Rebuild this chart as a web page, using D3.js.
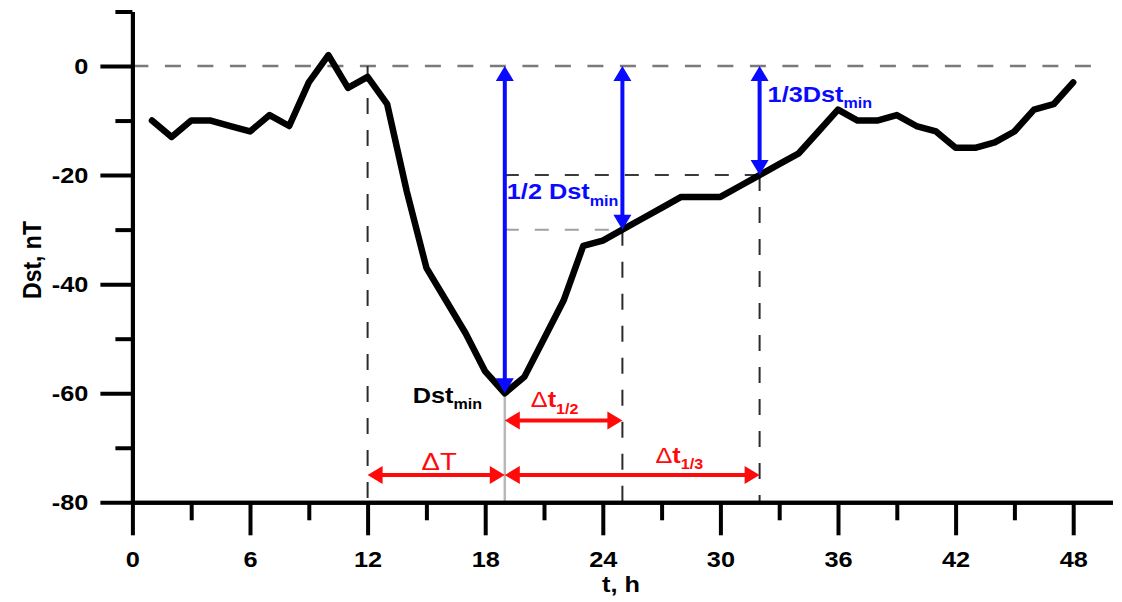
<!DOCTYPE html>
<html>
<head>
<meta charset="utf-8">
<script src="https://cdn.jsdelivr.net/npm/d3@7"></script>
<style>
  body { margin: 0; background: #fff; }
  svg { display: block; font-family: "Liberation Sans", Arial, sans-serif; }
</style>
</head>
<body>
<div id="chart"></div>
<script>
/* Dst storm profile with recovery-time annotations */

/* hourly values */
const hours = [1,2,3,4,5,6,7,8,9,10,11,12,13,14,15,16,17,18,19,20,21,22,23,24,
               25,26,27,28,29,30,31,32,33,34,35,36,37,38,39,40,41,42,43,44,45,46,47,48];
const dst = [-10,-13,-10,-10,-11,-12,-9,-11,-3,2,-4,-2,-7,-23,-37,-43,-49,-56,-60,-57,-50,-43,-33,-32,
             -30,-28,-26,-24,-24,-24,-22,-20,-18,-16,-12,-8,-10,-10,-9,-11,-12,-15,-15,-14,-12,-8,-7,-3];

const xMajor = [0,6,12,18,24,30,36,42,48];
const xMinor = [3,9,15,21,27,33,39,45];
const yMajor = [0,-20,-40,-60,-80];
const yMinor = [10,-10,-30,-50,-70];

/* onset, minimum, half recovery, third recovery */
const eventHours = [12, 19, 25, 32];
const eventLevels = [0, -60, -30, -20];
const arrowLevels = [-65, -75]; // rows of the red time arrows

const width = 1122, height = 602;
const sx = 1.15; // the figure's lettering is stretched sideways

let svg = d3.select("#chart")
    .append("svg")
    .attr("width", width)
    .attr("height", height)
    .attr("viewBox", [0, 0, width, height]);

let x = d3.scaleLinear().domain([0, 50]).range([132.4, 1112.4]);
let y = d3.scaleLinear().domain([-80, 10]).range([502.3, 11.5]);

const [tOn, tMin, tHalf, tThird] = eventHours;
const [lOn, lMin, lHalf, lThird] = eventLevels;

/* dashed guide lines */
let guides = svg.append("g").attr("fill", "none");

guides.append("line") // zero level
    .attr("x1", x(0)).attr("x2", x(49))
    .attr("y1", y(0)).attr("y2", y(0))
    .attr("stroke", "#7a7a7a").attr("stroke-width", 2.5)
    .attr("stroke-dasharray", "16,16.5");

guides.append("line") // 1/3 level
    .attr("x1", x(tMin)).attr("x2", x(tThird))
    .attr("y1", y(lThird)).attr("y2", y(lThird))
    .attr("stroke", "#3a3a3a").attr("stroke-width", 2)
    .attr("stroke-dasharray", "14,16");

guides.append("line") // 1/2 level
    .attr("x1", x(tMin)).attr("x2", x(tHalf))
    .attr("y1", y(lHalf)).attr("y2", y(lHalf))
    .attr("stroke", "#a0a0a0").attr("stroke-width", 2)
    .attr("stroke-dasharray", "14,16");

/* verticals down to the axis */
[[tOn, lOn], [tHalf, lHalf], [tThird, lThird]].forEach(([t, v]) => {
    guides.append("line")
        .attr("x1", x(t)).attr("x2", x(t))
        .attr("y1", y(v)).attr("y2", y(-80))
        .attr("stroke", "#2a2a2a").attr("stroke-width", 2)
        .attr("stroke-dasharray", "16,16");
});

guides.append("line") // solid grey line under the minimum
    .attr("x1", x(tMin)).attr("x2", x(tMin))
    .attr("y1", y(lMin)).attr("y2", y(-80))
    .attr("stroke", "#b8b8b8").attr("stroke-width", 2.5);

/* the Dst curve */
let line = d3.line()
    .x((d, i) => x(hours[i]))
    .y(d => y(d));

svg.append("path")
    .datum(dst)
    .attr("fill", "none")
    .attr("stroke", "black")
    .attr("stroke-width", 6.5)
    .attr("stroke-linejoin", "round")
    .attr("stroke-linecap", "round")
    .attr("d", line);

/* double headed arrows, heads drawn as triangles */
function doubleArrow(p1, p2, color) {
    const hl = 15, hw = 9;
    const dx = p2[0] - p1[0], dy = p2[1] - p1[1], len = Math.hypot(dx, dy);
    const ux = dx / len, uy = dy / len;
    let g = svg.append("g");
    g.append("line")
        .attr("x1", p1[0] + ux * (hl - 3)).attr("y1", p1[1] + uy * (hl - 3))
        .attr("x2", p2[0] - ux * (hl - 3)).attr("y2", p2[1] - uy * (hl - 3))
        .attr("stroke", color).attr("stroke-width", 4);
    [[p1, 1], [p2, -1]].forEach(([tip, s]) => {
        const bx = tip[0] + s * ux * hl, by = tip[1] + s * uy * hl;
        g.append("path")
            .attr("d", `M${tip[0]},${tip[1]}L${bx - uy * hw},${by + ux * hw}L${bx + uy * hw},${by - ux * hw}Z`)
            .attr("fill", color);
    });
}

const blue = "#0a0aff", red = "#ff0a0a";

doubleArrow([x(tMin), y(0)], [x(tMin), y(lMin)], blue);
doubleArrow([x(tHalf), y(0)], [x(tHalf), y(lHalf)], blue);
doubleArrow([x(tThird), y(0)], [x(tThird), y(lThird)], blue);

doubleArrow([x(tMin), y(arrowLevels[0])], [x(tHalf), y(arrowLevels[0])], red);
doubleArrow([x(tOn), y(arrowLevels[1])], [x(tMin), y(arrowLevels[1])], red);
doubleArrow([x(tMin), y(arrowLevels[1])], [x(tThird), y(arrowLevels[1])], red);

/* axes */
function styleAxis(g) {
    g.selectAll("path, line").attr("stroke", "black").attr("stroke-width", 4);
    g.selectAll("text")
        .attr("fill", "black")
        .attr("font-size", 22)
        .attr("font-weight", "bold")
        .attr("font-family", "'Liberation Sans', Arial, sans-serif");
}

const plain = d => String(d); // hyphen minus, as in the figure

svg.append("g")
    .attr("transform", `translate(0,${y(-80)})`)
    .call(d3.axisBottom(x).tickValues(xMinor).tickSize(18).tickSizeOuter(0).tickFormat(""))
    .call(styleAxis);

svg.append("g")
    .attr("transform", `translate(0,${y(-80)})`)
    .call(d3.axisBottom(x).tickValues(xMajor).tickSize(33).tickSizeOuter(0).tickPadding(16).tickFormat(plain))
    .call(styleAxis)
    .call(g => g.selectAll("text").attr("transform", `scale(${sx},1)`));

svg.append("g")
    .attr("transform", `translate(${x(0)},0)`)
    .call(d3.axisLeft(y).tickValues(yMinor).tickSize(17).tickSizeOuter(0).tickFormat(""))
    .call(styleAxis);

svg.append("g")
    .attr("transform", `translate(${x(0)},0)`)
    .call(d3.axisLeft(y).tickValues(yMajor).tickSize(32).tickSizeOuter(0).tickPadding(12).tickFormat(plain))
    .call(styleAxis)
    .call(g => g.selectAll("text")
        .attr("x", -44 / sx)
        .attr("transform", `scale(${sx},1)`));

/* labels made of tspans: [text, size, weight, dy] */
function note(px, py, parts, color, anchor) {
    let t = svg.append("text")
        .attr("transform", `translate(${px},${py}) scale(${sx},1)`)
        .attr("fill", color)
        .attr("text-anchor", anchor || "start");
    parts.forEach(([s, size, weight, dy]) => {
        t.append("tspan")
            .attr("font-size", size)
            .attr("font-weight", weight)
            .attr("dy", dy || 0)
            .text(s);
    });
}

note(x(tMin) + 2, y(-20) + 24, [["1/2 Dst", 22, "bold"], ["min", 14, "bold", 7]], blue);
note(x(tThird) + 8, y(0) + 36, [["1/3Dst", 22, "bold"], ["min", 14, "bold", 6]], blue);
note(x(tMin) - 92, y(lMin) + 10, [["Dst", 22, "bold"], ["min", 14, "bold", 6]], "black");

note(x(tMin) + 26, y(arrowLevels[0]) - 14,
    [["\u0394", 22, "normal"], ["t", 22, "bold"], ["1/2", 14, "bold", 7]], red);
note((x(tOn) + x(tMin)) / 2 + 3, y(arrowLevels[1]) - 5, [["\u0394T", 24, "normal"]], red, "middle");
note(x(tHalf) + 33, y(arrowLevels[1]) - 12,
    [["\u0394", 22, "normal"], ["t", 22, "bold"], ["1/3", 14, "bold", 6]], red);

/* axis titles */
svg.append("text")
    .attr("transform", `translate(621,592) scale(${sx},1)`)
    .attr("text-anchor", "middle")
    .attr("font-size", 22)
    .attr("font-weight", "bold")
    .text("t, h");

svg.append("text")
    .attr("transform", `translate(41,260) rotate(-90) scale(1,${sx})`)
    .attr("text-anchor", "middle")
    .attr("font-size", 23)
    .attr("font-weight", "bold")
    .text("Dst, nT");
</script>
</body>
</html>
